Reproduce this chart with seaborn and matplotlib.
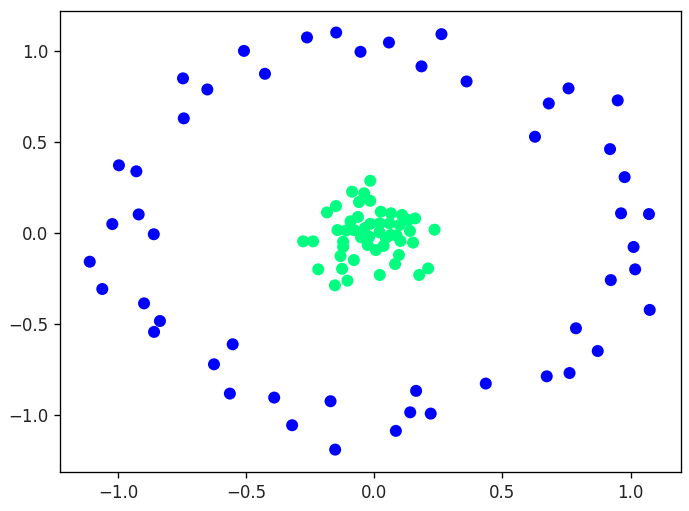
import matplotlib
matplotlib.use("Agg")
import matplotlib.pyplot as plt
import numpy as np
import pandas as pd
import seaborn as sns

# outer ring (label 0)
outer_x = [-0.509, -0.263, -0.149, -0.054, -0.427, -0.747, -0.652, -0.744,
           -0.997, -0.929, -0.920, -1.023, -0.861, 0.057, 0.262, 0.184,
           0.360, 0.758, 0.681, 0.950, 0.627, 0.920, 0.977, 0.963, 1.072,
           -1.111, -1.062, -0.899, -0.837, -0.860, -0.553, -0.626, -0.564,
           -0.391, -0.171, -0.321, -0.153, 1.012, 1.018, 0.923, 1.075,
           0.787, 0.872, 0.673, 0.762, 0.435, 0.163, 0.140, 0.220, 0.084]
outer_y = [1.003, 1.077, 1.104, 0.998, 0.877, 0.852, 0.791, 0.632,
           0.374, 0.341, 0.104, 0.051, -0.005, 1.049, 1.095, 0.918,
           0.835, 0.797, 0.714, 0.731, 0.531, 0.463, 0.309, 0.110, 0.106,
           -0.156, -0.306, -0.385, -0.482, -0.542, -0.610, -0.720, -0.881,
           -0.903, -0.923, -1.055, -1.189, -0.075, -0.198, -0.257, -0.421,
           -0.522, -0.647, -0.786, -0.768, -0.826, -0.866, -0.984, -0.991,
           -1.086]

# inner blob (label 1)
inner_x = [-0.016, -0.087, -0.040, -0.060, -0.016, -0.150, -0.185, 0.025,
           0.065, 0.108, 0.159, -0.064, -0.093, -0.016, 0.021, 0.059,
           0.099, 0.132, -0.144, -0.110, -0.052, -0.020, 0.020, 0.064,
           0.087, 0.139, 0.235, -0.278, -0.239, -0.122, -0.026, 0.036,
           0.102, 0.151, -0.122, -0.132, -0.080, 0.096, 0.081, -0.219,
           -0.126, 0.021, 0.175, 0.210, -0.105, -0.154, -0.080, 0.045,
           0.006, -0.037]
inner_y = [0.289, 0.229, 0.220, 0.172, 0.179, 0.150, 0.115, 0.119,
           0.110, 0.101, 0.082, 0.090, 0.066, 0.052, 0.055, 0.055,
           0.046, 0.073, 0.018, 0.016, -0.022, -0.019, 0.006, -0.009,
           -0.012, 0.013, 0.020, -0.044, -0.044, -0.046, -0.064, -0.069,
           -0.042, -0.051, -0.074, -0.125, -0.147, -0.119, -0.169, -0.198,
           -0.195, -0.229, -0.229, -0.193, -0.260, -0.286, 0.018, -0.026,
           -0.092, 0.029]

df = pd.DataFrame({
    "x": outer_x + inner_x,
    "y": outer_y + inner_y,
    "label": [0] * len(outer_x) + [1] * len(inner_x),
})

sns.set_style("ticks")
plt.rcParams["font.family"] = ["DejaVu Sans"]

fig, ax = plt.subplots(figsize=(689 / 120, 511 / 120), dpi=120)
fig.subplots_adjust(left=0.0875, right=0.988, top=0.978, bottom=0.076)

sns.scatterplot(data=df, x="x", y="y", hue="label",
                palette={0: "#0000ff", 1: "#00ff80"},
                s=52, linewidth=0, legend=False, ax=ax)

ax.set_xlim(-1.226, 1.196)
ax.set_ylim(-1.313, 1.221)
ax.set_xticks([-1.0, -0.5, 0.0, 0.5, 1.0])
ax.set_yticks([-1.0, -0.5, 0.0, 0.5, 1.0])
ax.set_xlabel("")
ax.set_ylabel("")
for side in ax.spines.values():
    side.set_visible(True)
    side.set_linewidth(0.8)
    side.set_color("black")
ax.tick_params(colors="black", labelcolor="#222222", length=3.5, width=0.8)

fig.savefig("out.png", dpi=120)
